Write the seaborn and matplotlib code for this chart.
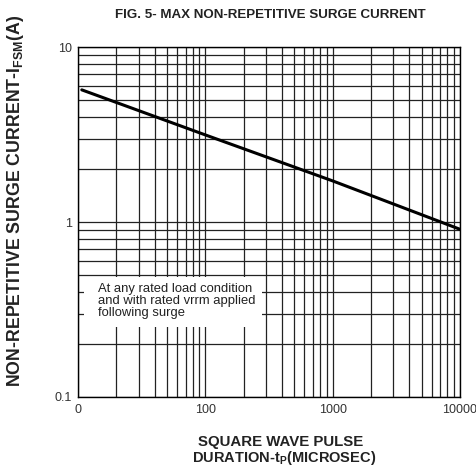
import matplotlib
matplotlib.use("Agg")
import matplotlib.pyplot as plt
import matplotlib.ticker as mticker
from matplotlib.patches import Rectangle
import seaborn as sns
import pandas as pd

# Data
pulse_us = [10.7, 100, 1000, 10000]
surge_a = [5.7, 3.15, 1.72, 0.91]
x_ticks = [10, 100, 1000, 10000]
x_tick_labels = ["0", "100", "1000", "10000"]
y_ticks = [0.1, 1, 10]
y_tick_labels = ["0.1", "1", "10"]

sns.set_style("white")
plt.rcParams["font.family"] = ["Liberation Sans", "DejaVu Sans"]
plt.rcParams["mathtext.fontset"] = "custom"
plt.rcParams["mathtext.rm"] = "Liberation Sans:bold"
plt.rcParams["mathtext.bf"] = "Liberation Sans:bold"

fig = plt.figure(figsize=(4.76, 4.67), dpi=100)
ax = fig.add_axes([0.164, 0.150, 0.802, 0.749])

df = pd.DataFrame({"t": pulse_us, "i": surge_a})
sns.lineplot(data=df, x="t", y="i", ax=ax, color="black", linewidth=2.2, zorder=3)

ax.set_xscale("log")
ax.set_yscale("log")
ax.set_xlim(10, 10000)
ax.set_ylim(0.1, 10)

ax.xaxis.set_major_locator(mticker.FixedLocator(x_ticks))
ax.xaxis.set_major_formatter(mticker.FixedFormatter(x_tick_labels))
ax.yaxis.set_major_locator(mticker.FixedLocator(y_ticks))
ax.yaxis.set_major_formatter(mticker.FixedFormatter(y_tick_labels))
ax.xaxis.set_minor_locator(mticker.LogLocator(base=10, subs=range(2, 10)))
ax.yaxis.set_minor_locator(mticker.LogLocator(base=10, subs=range(2, 10)))
ax.xaxis.set_minor_formatter(mticker.NullFormatter())
ax.yaxis.set_minor_formatter(mticker.NullFormatter())

ax.grid(True, which="both", color="#222222", linewidth=0.9)
ax.set_axisbelow(True)
ax.tick_params(which="both", length=0, labelsize=9, colors="#333333")
ax.tick_params(axis="x", pad=5)
ax.tick_params(axis="y", pad=4.5)
for s in ax.spines.values():
    s.set_color("black")
    s.set_linewidth(1.0)

ax.set_xlabel("")
ax.set_ylabel("")

# annotation box
ax.add_patch(Rectangle((0.016, 0.200), 0.466, 0.143, transform=ax.transAxes,
                       facecolor="white", edgecolor="none", zorder=2))
ax.text(0.052, 0.326, "At any rated load condition\nand with rated vrrm applied\nfollowing surge",
        transform=ax.transAxes, ha="left", va="top", fontsize=9.4, color="#222222",
        linespacing=1.0, zorder=4)

fig.text(0.567, 0.968, "FIG. 5- MAX NON-REPETITIVE SURGE CURRENT", ha="center", va="center",
         fontsize=9.6, fontweight="bold", color="#222222")
fig.text(0.590, 0.053, "SQUARE WAVE PULSE", ha="center", va="center",
         fontsize=10.8, fontweight="bold", color="#222222")
fig.text(0.597, 0.019, r"DURATION-t$_{\mathrm{P}}$(MICROSEC)", ha="center", va="center",
         fontsize=10.5, fontweight="bold", color="#222222")
fig.text(0.032, 0.57, r"NON-REPETITIVE SURGE CURRENT-I$_{\mathrm{FSM}}$(A)", ha="center",
         va="center", rotation=90, fontsize=12.8, fontweight="bold", color="#222222")

fig.savefig("out.png", dpi=100, facecolor="white")
